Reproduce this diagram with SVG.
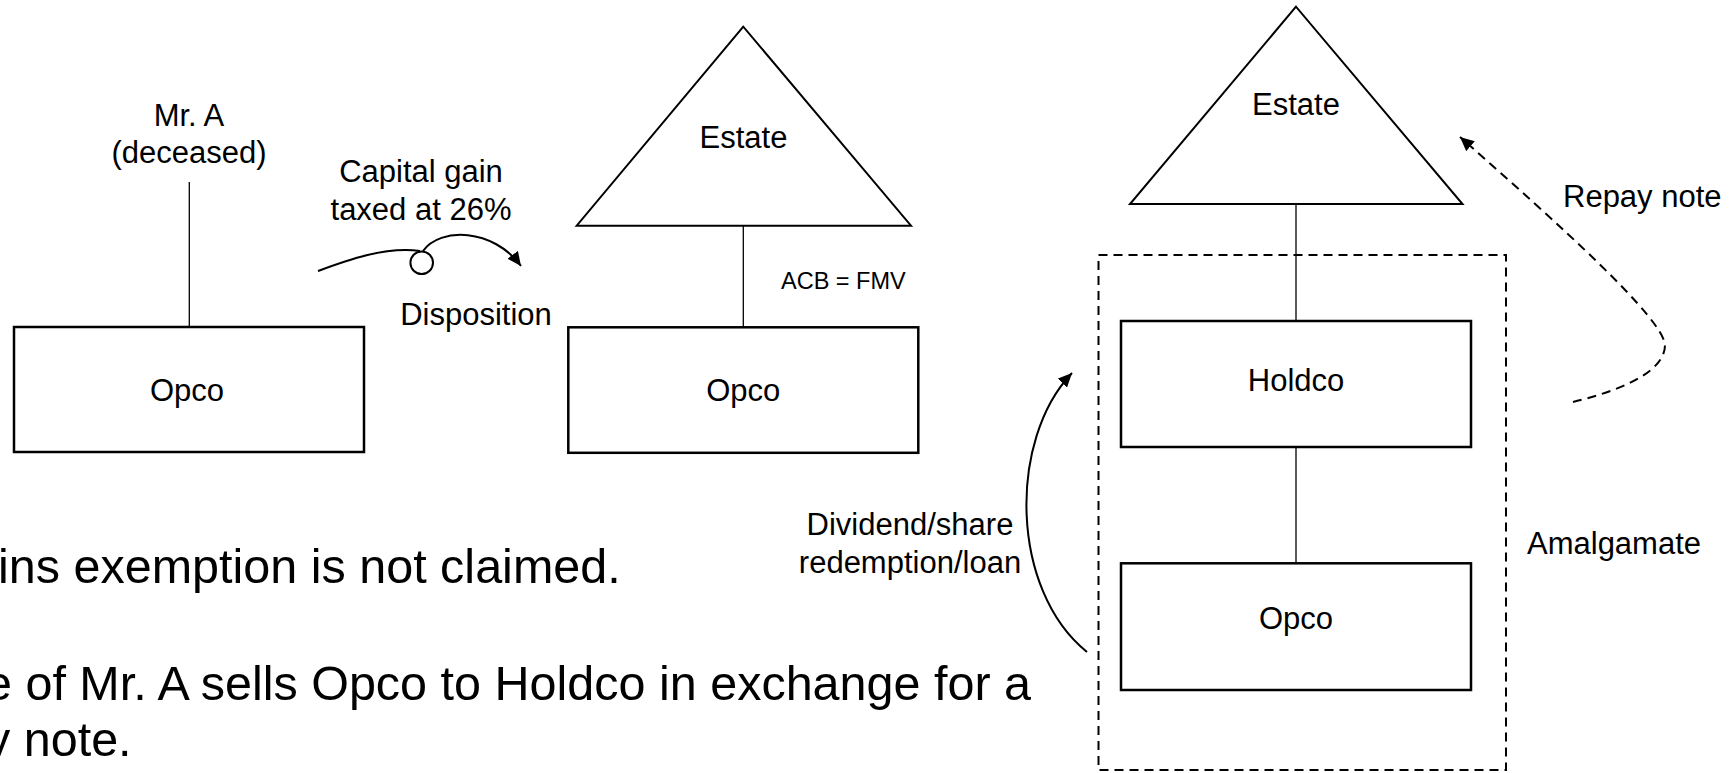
<svg xmlns="http://www.w3.org/2000/svg" width="1729" height="773" viewBox="0 0 1729 773">
<style>
text{font-family:"Liberation Sans",Arial,sans-serif;fill:#000;}
.t{font-size:31px;}
.s{font-size:23.5px;}
.b{font-size:48.5px;}
.box{fill:#fff;stroke:#000;stroke-width:2.5;}
.tri{fill:#fff;stroke:#000;stroke-width:2;}
.thin{stroke:#000;stroke-width:1.3;fill:none;}
.arr{stroke:#000;stroke-width:2;fill:none;}
.dash{stroke:#000;stroke-width:2;fill:none;stroke-dasharray:9 6;}
</style>
<defs>
<marker id="ah" markerUnits="userSpaceOnUse" markerWidth="15" markerHeight="13" refX="14" refY="6.5" orient="auto">
<path d="M0,0 L14,6.5 L0,13 z" fill="#000"/>
</marker>
</defs>
<rect width="1729" height="773" fill="#fff"/>

<g id="connectors">
<line class="thin" x1="189.3" y1="182" x2="189.3" y2="327"/>
<line class="thin" x1="743.3" y1="226" x2="743.3" y2="327"/>
<line class="thin" x1="1296" y1="204" x2="1296" y2="321"/>
<line class="thin" x1="1296" y1="447" x2="1296" y2="563"/>
<path class="arr" d="M318,271 C345,261 385,246 420,251"/>
<path class="arr" d="M423,251 C440,227 493,228 521,266" marker-end="url(#ah)"/>
<circle class="arr" cx="421.7" cy="262.7" r="11.3" fill="#fff"/>
<path class="arr" d="M1087,652 C1010,590 1008,440 1072,373" marker-end="url(#ah)"/>
<path class="dash" d="M1573,402 C1610,393 1665,375 1665,345 C1663,318 1560,225 1460,137" marker-end="url(#ah)"/>
</g>

<g id="mr-a">
<text class="t" x="189" y="126" text-anchor="middle">Mr. A</text>
<text class="t" x="189" y="163" text-anchor="middle">(deceased)</text>
</g>

<g id="opco-left">
<rect class="box" x="14" y="327" width="350" height="125"/>
<text class="t" x="187" y="401" text-anchor="middle">Opco</text>
</g>

<g id="label-capital-gain">
<text class="t" x="421" y="182" text-anchor="middle">Capital gain</text>
<text class="t" x="421" y="220" text-anchor="middle">taxed at 26%</text>
<text class="t" x="476" y="325" text-anchor="middle">Disposition</text>
</g>

<g id="estate-middle">
<polygon class="tri" points="743.3,26.7 576.7,225.7 911,225.7"/>
<text class="t" x="743.5" y="148" text-anchor="middle">Estate</text>
</g>

<g id="label-acb">
<text class="s" x="781" y="289">ACB = FMV</text>
</g>

<g id="opco-middle">
<rect class="box" x="568.3" y="327.3" width="350" height="125.5"/>
<text class="t" x="743.3" y="401" text-anchor="middle">Opco</text>
</g>

<g id="estate-right">
<polygon class="tri" points="1296,6.7 1130,204 1462.5,204"/>
<text class="t" x="1296" y="115" text-anchor="middle">Estate</text>
</g>

<g id="amalgamation-group">
<rect class="dash" x="1098.5" y="255" width="407.5" height="515"/>
</g>

<g id="holdco">
<rect class="box" x="1121" y="321" width="350" height="126"/>
<text class="t" x="1296" y="391" text-anchor="middle">Holdco</text>
</g>

<g id="opco-right">
<rect class="box" x="1121" y="563.3" width="350" height="126.7"/>
<text class="t" x="1296" y="629" text-anchor="middle">Opco</text>
</g>

<g id="labels-right">
<text class="t" x="1563" y="207">Repay note</text>
<text class="t" x="1527" y="554">Amalgamate</text>
<text class="t" x="910" y="535" text-anchor="middle">Dividend/share</text>
<text class="t" x="910" y="573" text-anchor="middle">redemption/loan</text>
</g>

<g id="body-text">
<text class="b" x="-2" y="583">ins exemption is not claimed.</text>
<text class="b" x="-15" y="700">e of Mr. A sells Opco to Holdco in exchange for a</text>
<text class="b" x="-14" y="756">y note.</text>
</g>
</svg>
